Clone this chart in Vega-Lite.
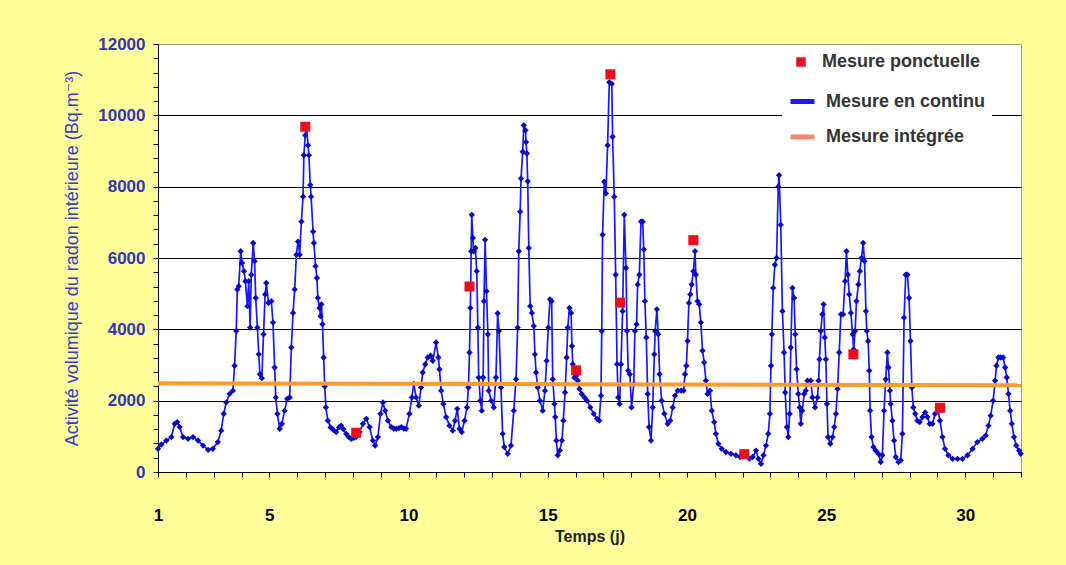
{
  "$schema": "https://vega.github.io/schema/vega-lite/v6.json",
  "width": 863,
  "height": 428,
  "autosize": {"type": "none"},
  "padding": {"left": 158, "top": 44, "right": 45, "bottom": 93},
  "background": "#FFFF9C",
  "config": {
    "font": "Liberation Sans",
    "view": {"stroke": "#9C9C7C", "fill": "white"},
    "axis": {"domainColor": "black", "tickColor": "black", "labelFont": "Liberation Sans", "labelFontWeight": "bold", "labelFontSize": 17, "titleFont": "Liberation Sans, DejaVu Sans", "labelOverlap": false, "labelFlush": false},
    "axisX": {"tickSize": 5, "labelPadding": 30, "labelColor": "black", "titleFontSize": 16, "titleFontWeight": "bold", "titleColor": "#222222", "titlePadding": 5, "grid": false},
    "axisY": {"tickSize": 5, "labelPadding": 8, "labelColor": "#3535B5", "titleColor": "#3A3AC8", "titleFontWeight": "normal", "titleFontSize": 18, "titlePadding": 16},
    "legend": {"labelFontSize": 18, "labelFontWeight": "bold", "labelColor": "#333333", "labelFont": "Liberation Sans", "fillColor": "white", "padding": 6, "title": null}
  },
  "datasets": {
    "continu": [
      {"jour":1.00,"activite":650},{"jour":1.12,"activite":770},{"jour":1.30,"activite":880},{"jour":1.48,"activite":980},{"jour":1.60,"activite":1350},{"jour":1.69,"activite":1400},{"jour":1.78,"activite":1260},{"jour":1.90,"activite":980},{"jour":2.08,"activite":930},{"jour":2.26,"activite":980},{"jour":2.44,"activite":880},{"jour":2.62,"activite":740},{"jour":2.80,"activite":620},{"jour":2.97,"activite":650},{"jour":3.15,"activite":840},{"jour":3.27,"activite":1160},{"jour":3.36,"activite":1630},{"jour":3.45,"activite":1950},{"jour":3.57,"activite":2190},{"jour":3.69,"activite":2280},{"jour":3.75,"activite":2980},{"jour":3.81,"activite":3950},{"jour":3.85,"activite":5120},{"jour":3.90,"activite":5210},{"jour":3.97,"activite":6190},{"jour":4.02,"activite":5860},{"jour":4.09,"activite":5630},{"jour":4.14,"activite":5350},{"jour":4.21,"activite":4650},{"jour":4.26,"activite":5350},{"jour":4.31,"activite":4050},{"jour":4.35,"activite":5530},{"jour":4.42,"activite":6420},{"jour":4.47,"activite":5910},{"jour":4.51,"activite":4880},{"jour":4.57,"activite":4050},{"jour":4.62,"activite":3300},{"jour":4.66,"activite":2740},{"jour":4.73,"activite":2630},{"jour":4.79,"activite":3860},{"jour":4.85,"activite":4980},{"jour":4.89,"activite":5300},{"jour":4.97,"activite":4740},{"jour":5.07,"activite":4790},{"jour":5.13,"activite":4190},{"jour":5.19,"activite":2930},{"jour":5.23,"activite":2090},{"jour":5.29,"activite":1630},{"jour":5.37,"activite":1210},{"jour":5.45,"activite":1350},{"jour":5.55,"activite":1720},{"jour":5.64,"activite":2050},{"jour":5.73,"activite":2090},{"jour":5.79,"activite":3490},{"jour":5.85,"activite":4460},{"jour":5.91,"activite":5120},{"jour":5.97,"activite":6090},{"jour":6.03,"activite":6460},{"jour":6.09,"activite":6090},{"jour":6.15,"activite":7020},{"jour":6.21,"activite":7720},{"jour":6.24,"activite":8880},{"jour":6.29,"activite":9440},{"jour":6.33,"activite":9720},{"jour":6.39,"activite":9160},{"jour":6.42,"activite":8880},{"jour":6.47,"activite":8050},{"jour":6.50,"activite":7720},{"jour":6.57,"activite":6740},{"jour":6.60,"activite":6420},{"jour":6.66,"activite":5770},{"jour":6.71,"activite":5440},{"jour":6.74,"activite":4880},{"jour":6.80,"activite":4600},{"jour":6.84,"activite":4370},{"jour":6.87,"activite":4700},{"jour":6.91,"activite":4140},{"jour":6.95,"activite":3210},{"jour":6.99,"activite":2400},
      {"jour":7.03,"activite":1810},{"jour":7.10,"activite":1440},{"jour":7.20,"activite":1250},{"jour":7.30,"activite":1180},{"jour":7.40,"activite":1120},{"jour":7.50,"activite":1250},{"jour":7.58,"activite":1300},{"jour":7.66,"activite":1200},{"jour":7.76,"activite":1070},{"jour":7.85,"activite":980},{"jour":7.94,"activite":930},{"jour":8.03,"activite":960},{"jour":8.12,"activite":980},{"jour":8.24,"activite":1120},{"jour":8.36,"activite":1350},{"jour":8.48,"activite":1490},{"jour":8.60,"activite":1260},{"jour":8.72,"activite":880},{"jour":8.80,"activite":740},{"jour":8.90,"activite":980},{"jour":8.99,"activite":1630},{"jour":9.08,"activite":1950},{"jour":9.16,"activite":1720},{"jour":9.26,"activite":1440},{"jour":9.38,"activite":1260},{"jour":9.47,"activite":1220},{"jour":9.56,"activite":1210},{"jour":9.65,"activite":1230},{"jour":9.74,"activite":1260},{"jour":9.83,"activite":1220},{"jour":9.91,"activite":1210},{"jour":10.03,"activite":1630},{"jour":10.12,"activite":2090},{"jour":10.19,"activite":2470},{"jour":10.27,"activite":2090},{"jour":10.37,"activite":1860},{"jour":10.45,"activite":2370},{"jour":10.51,"activite":2790},{"jour":10.60,"activite":3020},{"jour":10.69,"activite":3210},{"jour":10.79,"activite":3260},{"jour":10.87,"activite":3120},{"jour":10.99,"activite":3630},{"jour":11.07,"activite":3210},{"jour":11.11,"activite":2880},{"jour":11.17,"activite":2280},{"jour":11.25,"activite":1910},{"jour":11.35,"activite":1540},{"jour":11.47,"activite":1300},{"jour":11.59,"activite":1160},{"jour":11.67,"activite":1440},{"jour":11.75,"activite":1770},{"jour":11.83,"activite":1210},{"jour":11.91,"activite":1120},{"jour":12.01,"activite":1440},{"jour":12.10,"activite":1810},{"jour":12.15,"activite":2370},{"jour":12.19,"activite":3350},{"jour":12.22,"activite":4600},{"jour":12.25,"activite":6190},{"jour":12.27,"activite":7210},{"jour":12.31,"activite":6560},{"jour":12.34,"activite":6190},{"jour":12.40,"activite":6280},{"jour":12.45,"activite":5630},{"jour":12.49,"activite":4050},{"jour":12.52,"activite":2650},{"jour":12.58,"activite":2000},{"jour":12.63,"activite":1720},{"jour":12.68,"activite":2650},{"jour":12.71,"activite":4790},{"jour":12.75,"activite":6510},{"jour":12.80,"activite":5070},{"jour":12.85,"activite":3860},{"jour":12.88,"activite":2280},{"jour":12.97,"activite":2000},{"jour":13.06,"activite":1810},{"jour":13.14,"activite":2650},{"jour":13.20,"activite":4450},{"jour":13.25,"activite":3950},
      {"jour":13.32,"activite":2370},{"jour":13.38,"activite":1070},{"jour":13.44,"activite":700},{"jour":13.56,"activite":510},{"jour":13.68,"activite":740},{"jour":13.78,"activite":1720},{"jour":13.86,"activite":2600},{"jour":13.92,"activite":4050},{"jour":13.96,"activite":6190},{"jour":14.01,"activite":7300},{"jour":14.04,"activite":8230},{"jour":14.10,"activite":8980},{"jour":14.14,"activite":9720},{"jour":14.20,"activite":9580},{"jour":14.22,"activite":9250},{"jour":14.25,"activite":8930},{"jour":14.28,"activite":8150},{"jour":14.32,"activite":6280},{"jour":14.37,"activite":4650},{"jour":14.43,"activite":4460},{"jour":14.50,"activite":4090},{"jour":14.54,"activite":3300},{"jour":14.58,"activite":2790},{"jour":14.64,"activite":2370},{"jour":14.72,"activite":2000},{"jour":14.82,"activite":1720},{"jour":14.90,"activite":2280},{"jour":14.96,"activite":3120},{"jour":15.02,"activite":4050},{"jour":15.08,"activite":4840},{"jour":15.14,"activite":4790},{"jour":15.18,"activite":2600},{"jour":15.24,"activite":1910},{"jour":15.27,"activite":1540},{"jour":15.31,"activite":880},{"jour":15.36,"activite":470},{"jour":15.43,"activite":600},{"jour":15.51,"activite":880},{"jour":15.56,"activite":1440},{"jour":15.62,"activite":2230},{"jour":15.68,"activite":3210},{"jour":15.72,"activite":4050},{"jour":15.78,"activite":4600},{"jour":15.84,"activite":4460},{"jour":15.87,"activite":3530},{"jour":15.90,"activite":3020},{"jour":15.96,"activite":2650},{"jour":16.02,"activite":2700},{"jour":16.08,"activite":2560},{"jour":16.14,"activite":2330},{"jour":16.22,"activite":2190},{"jour":16.32,"activite":2090},{"jour":16.41,"activite":2000},{"jour":16.53,"activite":1810},{"jour":16.65,"activite":1630},{"jour":16.77,"activite":1490},{"jour":16.85,"activite":1440},{"jour":16.91,"activite":2140},{"jour":16.94,"activite":3950},{"jour":16.97,"activite":6650},{"jour":17.03,"activite":8140},{"jour":17.09,"activite":7810},{"jour":17.15,"activite":9160},{"jour":17.21,"activite":10930},{"jour":17.30,"activite":10880},{"jour":17.33,"activite":9400},{"jour":17.39,"activite":7720},{"jour":17.44,"activite":5530},{"jour":17.49,"activite":3020},{"jour":17.53,"activite":2090},{"jour":17.58,"activite":1910},{"jour":17.63,"activite":3020},{"jour":17.69,"activite":4510},{"jour":17.75,"activite":7210},{"jour":17.81,"activite":5720},{"jour":17.85,"activite":3950},{"jour":17.89,"activite":2840},{"jour":17.95,"activite":2740},{"jour":18.01,"activite":1810},{"jour":18.09,"activite":2470},{"jour":18.13,"activite":3950},{"jour":18.19,"activite":4140},{"jour":18.23,"activite":5260},{"jour":18.29,"activite":5530},{"jour":18.35,"activite":7020},{"jour":18.41,"activite":7020},{"jour":18.45,"activite":6240},{"jour":18.49,"activite":4790},{"jour":18.54,"activite":3770},{"jour":18.59,"activite":2190},{"jour":18.64,"activite":1260},{"jour":18.71,"activite":880},{"jour":18.77,"activite":1810},{"jour":18.83,"activite":3300},{"jour":18.86,"activite":3950},{"jour":18.92,"activite":4560},{"jour":18.97,"activite":3860},{"jour":19.02,"activite":2740},{"jour":19.09,"activite":2000},{"jour":19.19,"activite":1630},
      {"jour":19.31,"activite":1350},{"jour":19.40,"activite":1440},{"jour":19.49,"activite":1810},{"jour":19.57,"activite":2140},{"jour":19.67,"activite":2280},{"jour":19.79,"activite":2280},{"jour":19.88,"activite":2280},{"jour":19.93,"activite":2740},{"jour":19.98,"activite":2980},{"jour":20.02,"activite":3670},{"jour":20.07,"activite":4740},{"jour":20.12,"activite":4980},{"jour":20.17,"activite":5260},{"jour":20.23,"activite":5630},{"jour":20.29,"activite":6190},{"jour":20.32,"activite":5530},{"jour":20.38,"activite":4790},{"jour":20.44,"activite":4700},{"jour":20.50,"activite":4190},{"jour":20.56,"activite":3400},{"jour":20.62,"activite":3070},{"jour":20.68,"activite":2560},{"jour":20.74,"activite":2190},{"jour":20.83,"activite":2280},{"jour":20.89,"activite":1720},{"jour":20.98,"activite":1400},{"jour":21.04,"activite":1070},{"jour":21.13,"activite":790},{"jour":21.25,"activite":650},{"jour":21.40,"activite":560},{"jour":21.58,"activite":510},{"jour":21.76,"activite":470},{"jour":21.91,"activite":420},{"jour":22.06,"activite":470},{"jour":22.24,"activite":370},{"jour":22.36,"activite":420},{"jour":22.48,"activite":600},{"jour":22.57,"activite":370},{"jour":22.66,"activite":230},{"jour":22.75,"activite":470},{"jour":22.84,"activite":740},{"jour":22.92,"activite":1070},{"jour":22.98,"activite":1630},{"jour":23.02,"activite":2980},{"jour":23.05,"activite":3860},{"jour":23.10,"activite":5160},{"jour":23.16,"activite":5810},{"jour":23.22,"activite":6000},{"jour":23.28,"activite":8000},{"jour":23.31,"activite":8320},{"jour":23.37,"activite":6930},{"jour":23.43,"activite":4510},{"jour":23.49,"activite":3350},{"jour":23.53,"activite":2230},{"jour":23.59,"activite":1260},{"jour":23.64,"activite":980},{"jour":23.69,"activite":1630},{"jour":23.73,"activite":3490},{"jour":23.79,"activite":5160},{"jour":23.85,"activite":4880},{"jour":23.89,"activite":3860},{"jour":23.94,"activite":2880},{"jour":24.00,"activite":2190},{"jour":24.05,"activite":1810},{"jour":24.09,"activite":1350},{"jour":24.14,"activite":1720},{"jour":24.21,"activite":2190},{"jour":24.27,"activite":2280},{"jour":24.33,"activite":2560},{"jour":24.45,"activite":2560},{"jour":24.51,"activite":2090},{"jour":24.60,"activite":1810},{"jour":24.69,"activite":2090},{"jour":24.73,"activite":2560},{"jour":24.76,"activite":3160},{"jour":24.81,"activite":3950},{"jour":24.86,"activite":4420},{"jour":24.91,"activite":4700},{"jour":24.95,"activite":3770},{"jour":24.99,"activite":3160},{"jour":25.03,"activite":1910},{"jour":25.07,"activite":980},{"jour":25.15,"activite":790},{"jour":25.23,"activite":980},{"jour":25.29,"activite":1260},{"jour":25.35,"activite":1630},{"jour":25.41,"activite":2330},{"jour":25.47,"activite":3350},
      {"jour":25.53,"activite":4420},{"jour":25.61,"activite":4420},{"jour":25.68,"activite":5350},{"jour":25.73,"activite":6190},{"jour":25.78,"activite":5530},{"jour":25.83,"activite":4980},{"jour":25.89,"activite":4460},{"jour":25.95,"activite":3860},{"jour":25.99,"activite":3440},{"jour":26.04,"activite":3950},{"jour":26.09,"activite":4790},{"jour":26.16,"activite":5260},{"jour":26.21,"activite":5630},{"jour":26.27,"activite":6000},{"jour":26.33,"activite":6420},{"jour":26.38,"activite":5910},{"jour":26.43,"activite":4510},{"jour":26.46,"activite":3950},{"jour":26.51,"activite":3670},{"jour":26.55,"activite":2840},{"jour":26.58,"activite":1720},{"jour":26.63,"activite":980},{"jour":26.70,"activite":700},{"jour":26.78,"activite":600},{"jour":26.88,"activite":510},{"jour":26.96,"activite":280},{"jour":27.02,"activite":470},{"jour":27.08,"activite":1720},{"jour":27.14,"activite":2600},{"jour":27.20,"activite":3350},{"jour":27.24,"activite":2930},{"jour":27.29,"activite":2280},{"jour":27.32,"activite":1910},{"jour":27.38,"activite":1440},{"jour":27.44,"activite":880},{"jour":27.50,"activite":420},{"jour":27.60,"activite":280},{"jour":27.68,"activite":330},{"jour":27.74,"activite":1070},{"jour":27.80,"activite":4330},{"jour":27.86,"activite":5530},{"jour":27.92,"activite":5530},{"jour":27.98,"activite":4880},{"jour":28.03,"activite":3670},{"jour":28.08,"activite":2370},{"jour":28.13,"activite":1810},{"jour":28.20,"activite":1630},{"jour":28.28,"activite":1440},{"jour":28.36,"activite":1400},{"jour":28.46,"activite":1540},{"jour":28.56,"activite":1670},{"jour":28.64,"activite":1540},{"jour":28.72,"activite":1350},{"jour":28.82,"activite":1350},{"jour":28.91,"activite":1630},{"jour":29.00,"activite":1810},{"jour":29.09,"activite":1440},{"jour":29.18,"activite":980},{"jour":29.27,"activite":650},{"jour":29.39,"activite":470},{"jour":29.54,"activite":370},{"jour":29.72,"activite":370},{"jour":29.90,"activite":370},{"jour":30.08,"activite":470},{"jour":30.26,"activite":650},{"jour":30.43,"activite":840},{"jour":30.61,"activite":930},{"jour":30.73,"activite":1020},{"jour":30.83,"activite":1300},{"jour":30.91,"activite":1580},{"jour":31.00,"activite":2000},{"jour":31.07,"activite":2560},{"jour":31.12,"activite":2980},{"jour":31.19,"activite":3210},{"jour":31.27,"activite":3210},{"jour":31.36,"activite":3210},{"jour":31.43,"activite":2930},{"jour":31.49,"activite":2650},{"jour":31.55,"activite":2190},{"jour":31.61,"activite":1720},{"jour":31.67,"activite":1350},{"jour":31.75,"activite":980},{"jour":31.83,"activite":740},{"jour":31.93,"activite":600},{"jour":31.99,"activite":510}
    ],
    "ponctuelle": [
      {"jour":6.29,"activite":9680},{"jour":8.12,"activite":1100},{"jour":12.19,"activite":5200},{"jour":16.02,"activite":2850},{"jour":17.25,"activite":11150},{"jour":17.60,"activite":4750},{"jour":20.23,"activite":6500},{"jour":22.06,"activite":500},{"jour":25.98,"activite":3300},{"jour":29.09,"activite":1800}
    ],
    "integree": [
      {"jour":1,"activite":2490},{"jour":32,"activite":2430}
    ]
  },
  "layer": [
    {
      "data": {"name": "continu"},
      "mark": {"type": "line", "strokeWidth": 1.7},
      "encoding": {
        "x": {"field": "jour", "type": "quantitative", "scale": {"domain": [1, 32], "nice": false, "zero": false},
              "axis": {"values": [1,2,3,4,5,6,7,8,9,10,11,12,13,14,15,16,17,18,19,20,21,22,23,24,25,26,27,28,29,30,31,32],
                       "tickCount": 200, "labelOverlap": false, "labelFlush": false,
                       "labelExpr": "(datum.value == 1 || datum.value == 5 || datum.value == 10 || datum.value == 15 || datum.value == 20 || datum.value == 25 || datum.value == 30) ? datum.value : ''"},
              "title": "Temps (j)"},
        "y": {"field": "activite", "type": "quantitative", "scale": {"domain": [0, 12000], "nice": false},
              "axis": {"values": [0,400,800,1200,1600,2000,2400,2800,3200,3600,4000,4400,4800,5200,5600,6000,6400,6800,7200,7600,8000,8400,8800,9200,9600,10000,10400,10800,11200,11600,12000],
                       "tickCount": 200, "labelOverlap": false, "labelFlush": false,
                       "labelExpr": "abs(datum.value / 2000 - round(datum.value / 2000)) < 0.01 ? datum.value : ''",
                       "grid": true, "gridWidth": 1,
                       "gridColor": {"condition": {"test": "abs(datum.value / 2000 - round(datum.value / 2000)) < 0.01 && datum.value > 100 && datum.value < 11900", "value": "black"}, "value": "transparent"}},
              "title": "Activité volumique du radon intérieure (Bq.m⁻³)"},
        "color": {
          "datum": "Mesure en continu",
          "scale": {"domain": ["Mesure en continu", "Mesure intégrée"], "range": ["#1A1AF0", "#F28A72"]},
          "legend": {"orient": "none", "legendX": 624, "legendY": 37, "symbolType": "stroke", "symbolSize": 576, "symbolStrokeWidth": 5, "labelOffset": 9, "rowPadding": 10.5}
        }
      }
    },
    {
      "data": {"name": "continu"},
      "mark": {"type": "point", "shape": "diamond", "filled": true, "color": "#0808C8", "size": 40, "opacity": 1},
      "encoding": {
        "x": {"field": "jour", "type": "quantitative"},
        "y": {"field": "activite", "type": "quantitative"}
      }
    },
    {
      "data": {"name": "integree"},
      "mark": {"type": "line", "color": "#FF9A2E", "strokeWidth": 4},
      "encoding": {
        "x": {"field": "jour", "type": "quantitative"},
        "y": {"field": "activite", "type": "quantitative"}
      }
    },
    {
      "data": {"name": "ponctuelle"},
      "mark": {"type": "point", "filled": true, "size": 100, "opacity": 1, "color": "#E8101C"},
      "encoding": {
        "x": {"field": "jour", "type": "quantitative"},
        "y": {"field": "activite", "type": "quantitative"},
        "shape": {
          "datum": "Mesure ponctuelle",
          "scale": {"domain": ["Mesure ponctuelle"], "range": ["square"]},
          "legend": {"orient": "none", "legendX": 628, "legendY": 3, "symbolType": "square", "symbolSize": 90, "symbolFillColor": "#E8101C", "symbolStrokeColor": "#E8101C", "symbolStrokeWidth": 0, "labelOffset": 12}
        }
      }
    }
  ]
}
